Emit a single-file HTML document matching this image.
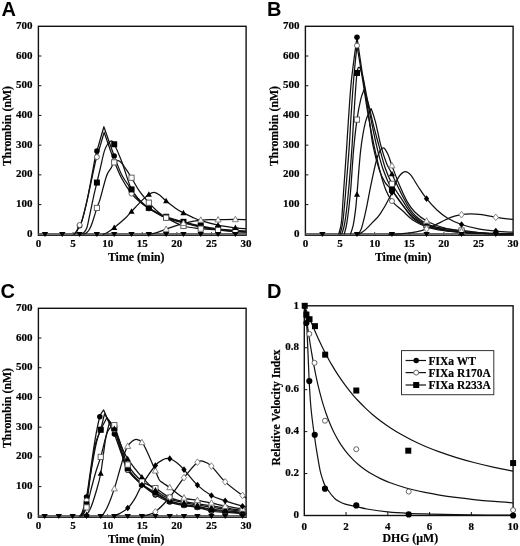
<!DOCTYPE html>
<html><head><meta charset="utf-8"><style>
html,body{margin:0;padding:0;background:#fff;width:520px;height:546px;overflow:hidden}
svg{display:block;filter:blur(0.35px)}
</style></head><body>
<svg width="520" height="546" viewBox="0 0 520 546"><rect x="0" y="0" width="520" height="546" fill="#fff"/>
<rect x="38.40" y="26.30" width="207.70" height="208.90" fill="none" stroke="#111" stroke-width="1.4"/>
<text x="32.50" y="236.90" font-family='"Liberation Serif", serif' font-size="11.00" font-weight="bold" text-anchor="end" stroke="#000" stroke-width="0.20">0</text>
<line x1="38.40" y1="204.59" x2="41.40" y2="204.59" stroke="#111" stroke-width="1"/>
<text x="32.50" y="207.19" font-family='"Liberation Serif", serif' font-size="11.00" font-weight="bold" text-anchor="end" stroke="#000" stroke-width="0.20">100</text>
<line x1="38.40" y1="174.87" x2="41.40" y2="174.87" stroke="#111" stroke-width="1"/>
<text x="32.50" y="177.47" font-family='"Liberation Serif", serif' font-size="11.00" font-weight="bold" text-anchor="end" stroke="#000" stroke-width="0.20">200</text>
<line x1="38.40" y1="145.16" x2="41.40" y2="145.16" stroke="#111" stroke-width="1"/>
<text x="32.50" y="147.76" font-family='"Liberation Serif", serif' font-size="11.00" font-weight="bold" text-anchor="end" stroke="#000" stroke-width="0.20">300</text>
<line x1="38.40" y1="115.44" x2="41.40" y2="115.44" stroke="#111" stroke-width="1"/>
<text x="32.50" y="118.04" font-family='"Liberation Serif", serif' font-size="11.00" font-weight="bold" text-anchor="end" stroke="#000" stroke-width="0.20">400</text>
<line x1="38.40" y1="85.73" x2="41.40" y2="85.73" stroke="#111" stroke-width="1"/>
<text x="32.50" y="88.33" font-family='"Liberation Serif", serif' font-size="11.00" font-weight="bold" text-anchor="end" stroke="#000" stroke-width="0.20">500</text>
<line x1="38.40" y1="56.01" x2="41.40" y2="56.01" stroke="#111" stroke-width="1"/>
<text x="32.50" y="58.61" font-family='"Liberation Serif", serif' font-size="11.00" font-weight="bold" text-anchor="end" stroke="#000" stroke-width="0.20">600</text>
<text x="32.50" y="28.90" font-family='"Liberation Serif", serif' font-size="11.00" font-weight="bold" text-anchor="end" stroke="#000" stroke-width="0.20">700</text>
<text x="38.40" y="247.30" font-family='"Liberation Serif", serif' font-size="11.00" font-weight="bold" text-anchor="middle" stroke="#000" stroke-width="0.20">0</text>
<line x1="73.02" y1="235.20" x2="73.02" y2="232.20" stroke="#111" stroke-width="1"/>
<text x="73.02" y="247.30" font-family='"Liberation Serif", serif' font-size="11.00" font-weight="bold" text-anchor="middle" stroke="#000" stroke-width="0.20">5</text>
<line x1="107.63" y1="235.20" x2="107.63" y2="232.20" stroke="#111" stroke-width="1"/>
<text x="107.63" y="247.30" font-family='"Liberation Serif", serif' font-size="11.00" font-weight="bold" text-anchor="middle" stroke="#000" stroke-width="0.20">10</text>
<line x1="142.25" y1="235.20" x2="142.25" y2="232.20" stroke="#111" stroke-width="1"/>
<text x="142.25" y="247.30" font-family='"Liberation Serif", serif' font-size="11.00" font-weight="bold" text-anchor="middle" stroke="#000" stroke-width="0.20">15</text>
<line x1="176.87" y1="235.20" x2="176.87" y2="232.20" stroke="#111" stroke-width="1"/>
<text x="176.87" y="247.30" font-family='"Liberation Serif", serif' font-size="11.00" font-weight="bold" text-anchor="middle" stroke="#000" stroke-width="0.20">20</text>
<line x1="211.48" y1="235.20" x2="211.48" y2="232.20" stroke="#111" stroke-width="1"/>
<text x="211.48" y="247.30" font-family='"Liberation Serif", serif' font-size="11.00" font-weight="bold" text-anchor="middle" stroke="#000" stroke-width="0.20">25</text>
<text x="246.10" y="247.30" font-family='"Liberation Serif", serif' font-size="11.00" font-weight="bold" text-anchor="middle" stroke="#000" stroke-width="0.20">30</text>
<text x="136.20" y="261.00" font-family='"Liberation Serif", serif' font-size="11.80" font-weight="bold" text-anchor="middle" stroke="#000" stroke-width="0.20">Time (min)</text>
<text x="10.50" y="126.00" font-family='"Liberation Serif", serif' font-size="11.80" font-weight="bold" text-anchor="middle" transform="rotate(-90 10.50 126.00)" stroke="#000" stroke-width="0.20">Thrombin (nM)</text>
<text x="1.40" y="16.00" font-family='"Liberation Sans", sans-serif' font-size="20.00" font-weight="bold" text-anchor="start">A</text>
<line x1="38.40" y1="233.90" x2="246.10" y2="233.90" stroke="#666" stroke-width="1.7"/>
<path d="M73.71,234.30 C74.17,233.90 75.50,233.36 76.48,231.92 C77.46,230.49 78.67,227.61 79.59,225.68 C80.52,223.75 80.81,224.44 82.02,220.33 C83.23,216.22 85.36,207.71 86.86,201.02 C88.36,194.33 89.63,187.45 91.02,180.22 C92.40,172.99 94.19,162.49 95.17,157.64 C96.15,152.78 95.45,156.25 96.90,151.10 C98.36,145.95 102.73,130.80 103.89,126.73 C105.63,131.64 111.23,147.98 114.28,156.15 C117.33,164.32 119.30,170.22 122.17,175.76 C125.05,181.31 128.63,185.27 131.52,189.43 C134.40,193.59 136.60,197.60 139.48,200.72 C142.37,203.84 145.25,205.77 148.83,208.15 C152.40,210.53 158.06,213.45 160.94,214.99 C163.83,216.52 162.39,216.12 166.14,217.36 C169.89,218.60 177.67,220.88 183.44,222.41 C189.21,223.95 194.98,225.39 200.75,226.57 C206.52,227.76 212.29,228.75 218.06,229.55 C223.83,230.34 230.70,230.93 235.37,231.33 C240.04,231.72 244.31,231.82 246.10,231.92" fill="none" stroke="#111" stroke-width="1.25" stroke-linejoin="round"/>
<path d="M73.71,234.30 C74.17,233.80 75.56,232.76 76.48,231.33 C77.40,229.89 78.32,227.47 79.25,225.68 C80.17,223.90 80.75,224.64 82.02,220.63 C83.29,216.62 85.36,208.00 86.86,201.61 C88.36,195.23 89.63,188.74 91.02,182.30 C92.40,175.86 94.19,167.20 95.17,162.99 C96.15,158.78 95.40,162.14 96.90,157.04 C98.40,151.94 102.96,136.49 104.17,132.38 C105.86,137.18 111.28,153.38 114.28,161.20 C117.28,169.03 119.30,173.93 122.17,179.33 C125.05,184.73 128.63,189.88 131.52,193.59 C134.40,197.31 136.60,199.14 139.48,201.61 C142.37,204.09 145.25,206.12 148.83,208.45 C152.40,210.78 158.06,214.00 160.94,215.58 C163.83,217.16 162.39,216.72 166.14,217.96 C169.89,219.20 177.67,221.47 183.44,223.01 C189.21,224.54 194.98,226.03 200.75,227.17 C206.52,228.31 212.29,229.10 218.06,229.84 C223.83,230.59 230.70,231.23 235.37,231.63 C240.04,232.02 244.31,232.12 246.10,232.22" fill="none" stroke="#111" stroke-width="1.25" stroke-linejoin="round"/>
<path d="M79.94,234.30 C80.57,234.05 82.59,233.90 83.75,232.81 C84.90,231.72 85.92,230.49 86.86,227.76 C87.81,225.04 88.27,221.82 89.42,216.47 C90.58,211.12 92.51,201.47 93.79,195.67 C95.07,189.88 95.99,186.41 97.11,181.71 C98.23,177.00 99.21,172.79 100.50,167.44 C101.79,162.09 103.19,153.97 104.86,149.61 C106.54,145.26 108.98,142.19 110.54,141.29 C112.10,140.40 112.32,140.80 114.21,144.27 C116.10,147.73 119.05,154.62 121.90,162.09 C124.75,169.57 128.38,182.84 131.31,189.13 C134.24,195.42 136.56,196.71 139.48,199.83 C142.40,202.95 145.25,205.38 148.83,207.85 C152.40,210.33 158.06,213.20 160.94,214.69 C163.83,216.17 162.39,215.58 166.14,216.77 C169.89,217.96 177.67,220.28 183.44,221.82 C189.21,223.36 194.98,224.79 200.75,225.98 C206.52,227.17 212.29,228.16 218.06,228.95 C223.83,229.74 230.70,230.34 235.37,230.73 C240.04,231.13 244.31,231.23 246.10,231.33" fill="none" stroke="#111" stroke-width="1.25" stroke-linejoin="round"/>
<path d="M83.40,234.30 C83.98,234.00 85.82,233.41 86.86,232.52 C87.90,231.63 88.73,230.59 89.63,228.95 C90.53,227.32 91.02,226.33 92.26,222.71 C93.51,219.10 95.84,211.07 97.11,207.26 C98.38,203.45 98.31,205.03 99.88,199.83 C101.45,194.63 104.69,181.31 106.53,176.06 C108.36,170.81 109.61,170.61 110.89,168.33 C112.17,166.06 112.75,163.58 114.21,162.39 C115.68,161.20 117.66,160.01 119.68,161.20 C121.70,162.39 124.34,166.75 126.33,169.52 C128.31,172.30 129.40,174.23 131.59,177.84 C133.78,181.46 136.55,187.00 139.48,191.21 C142.41,195.42 146.06,199.63 149.17,203.10 C152.29,206.57 155.37,209.59 158.17,212.01 C160.98,214.44 161.79,215.33 166.00,217.66 C170.21,219.99 177.65,224.15 183.44,225.98 C189.24,227.81 194.98,228.01 200.75,228.65 C206.52,229.30 212.29,229.50 218.06,229.84 C223.83,230.19 230.70,230.49 235.37,230.73 C240.04,230.98 244.31,231.23 246.10,231.33" fill="none" stroke="#111" stroke-width="1.25" stroke-linejoin="round"/>
<path d="M102.79,234.30 C103.48,234.05 105.06,233.90 106.94,232.81 C108.82,231.72 111.07,230.14 114.07,227.76 C117.07,225.39 122.02,221.28 124.94,218.55 C127.86,215.83 128.70,214.49 131.59,211.42 C134.47,208.35 139.32,203.00 142.25,200.13 C145.18,197.26 147.21,195.47 149.17,194.19 C151.13,192.90 152.29,192.25 154.02,192.40 C155.75,192.55 157.48,193.59 159.56,195.08 C161.64,196.56 163.83,199.14 166.48,201.32 C169.14,203.50 172.68,206.22 175.48,208.15 C178.29,210.08 180.54,211.42 183.31,212.91 C186.07,214.39 189.17,215.78 192.10,217.07 C195.03,218.35 196.56,219.29 200.89,220.63 C205.22,221.97 212.31,223.90 218.06,225.09 C223.81,226.28 230.70,227.17 235.37,227.76 C240.04,228.36 244.31,228.51 246.10,228.65" fill="none" stroke="#111" stroke-width="1.25" stroke-linejoin="round"/>
<path d="M149.17,234.30 C149.75,234.20 151.02,234.10 152.63,233.71 C154.25,233.31 156.64,232.67 158.87,231.92 C161.09,231.18 161.90,230.68 166.00,229.25 C170.09,227.81 177.63,224.84 183.44,223.31 C189.26,221.77 195.12,220.63 200.89,220.04 C206.66,219.44 212.31,219.84 218.06,219.74 C223.81,219.64 230.70,219.44 235.37,219.44 C240.04,219.44 244.31,219.69 246.10,219.74" fill="none" stroke="#111" stroke-width="1.25" stroke-linejoin="round"/>
<circle cx="79.59" cy="225.68" r="2.75" fill="#000"/>
<circle cx="96.90" cy="151.10" r="2.75" fill="#000"/>
<circle cx="114.21" cy="155.96" r="2.75" fill="#000"/>
<circle cx="131.52" cy="189.43" r="2.75" fill="#000"/>
<circle cx="148.83" cy="208.15" r="2.75" fill="#000"/>
<circle cx="166.14" cy="217.36" r="2.75" fill="#000"/>
<circle cx="183.44" cy="222.41" r="2.75" fill="#000"/>
<circle cx="200.75" cy="226.57" r="2.75" fill="#000"/>
<circle cx="218.06" cy="229.55" r="2.75" fill="#000"/>
<circle cx="235.37" cy="231.33" r="2.75" fill="#000"/>
<circle cx="79.59" cy="225.05" r="2.50" fill="#fff" stroke="#555" stroke-width="0.90"/>
<circle cx="96.90" cy="157.04" r="2.50" fill="#fff" stroke="#555" stroke-width="0.90"/>
<circle cx="114.21" cy="161.01" r="2.50" fill="#fff" stroke="#555" stroke-width="0.90"/>
<circle cx="131.52" cy="193.59" r="2.50" fill="#fff" stroke="#555" stroke-width="0.90"/>
<circle cx="148.83" cy="208.45" r="2.50" fill="#fff" stroke="#555" stroke-width="0.90"/>
<circle cx="166.14" cy="217.96" r="2.50" fill="#fff" stroke="#555" stroke-width="0.90"/>
<circle cx="183.44" cy="223.01" r="2.50" fill="#fff" stroke="#555" stroke-width="0.90"/>
<circle cx="200.75" cy="227.17" r="2.50" fill="#fff" stroke="#555" stroke-width="0.90"/>
<circle cx="218.06" cy="229.84" r="2.50" fill="#fff" stroke="#555" stroke-width="0.90"/>
<circle cx="235.37" cy="231.63" r="2.50" fill="#fff" stroke="#555" stroke-width="0.90"/>
<rect x="93.90" y="179.58" width="6.00" height="6.00" fill="#000"/>
<rect x="111.21" y="141.27" width="6.00" height="6.00" fill="#000"/>
<rect x="128.52" y="186.41" width="6.00" height="6.00" fill="#000"/>
<rect x="145.83" y="204.85" width="6.00" height="6.00" fill="#000"/>
<rect x="163.14" y="213.77" width="6.00" height="6.00" fill="#000"/>
<rect x="180.44" y="218.82" width="6.00" height="6.00" fill="#000"/>
<rect x="197.75" y="222.98" width="6.00" height="6.00" fill="#000"/>
<rect x="215.06" y="225.95" width="6.00" height="6.00" fill="#000"/>
<rect x="232.37" y="227.73" width="6.00" height="6.00" fill="#000"/>
<rect x="94.30" y="205.32" width="5.20" height="5.20" fill="#fff" stroke="#555" stroke-width="0.90"/>
<rect x="111.61" y="159.79" width="5.20" height="5.20" fill="#fff" stroke="#555" stroke-width="0.90"/>
<rect x="128.92" y="175.13" width="5.20" height="5.20" fill="#fff" stroke="#555" stroke-width="0.90"/>
<rect x="146.23" y="200.08" width="5.20" height="5.20" fill="#fff" stroke="#555" stroke-width="0.90"/>
<rect x="163.54" y="215.13" width="5.20" height="5.20" fill="#fff" stroke="#555" stroke-width="0.90"/>
<rect x="180.84" y="223.38" width="5.20" height="5.20" fill="#fff" stroke="#555" stroke-width="0.90"/>
<rect x="198.15" y="226.05" width="5.20" height="5.20" fill="#fff" stroke="#555" stroke-width="0.90"/>
<rect x="215.46" y="227.24" width="5.20" height="5.20" fill="#fff" stroke="#555" stroke-width="0.90"/>
<rect x="232.77" y="228.13" width="5.20" height="5.20" fill="#fff" stroke="#555" stroke-width="0.90"/>
<polygon points="114.21,224.45 117.25,229.89 111.17,229.89" fill="#000"/>
<polygon points="131.52,208.29 134.56,213.73 128.48,213.73" fill="#000"/>
<polygon points="148.83,191.28 151.87,196.72 145.79,196.72" fill="#000"/>
<polygon points="166.14,197.81 169.18,203.25 163.10,203.25" fill="#000"/>
<polygon points="183.44,209.77 186.48,215.21 180.40,215.21" fill="#000"/>
<polygon points="200.75,217.38 203.79,222.82 197.71,222.82" fill="#000"/>
<polygon points="218.06,221.89 221.10,227.33 215.02,227.33" fill="#000"/>
<polygon points="235.37,224.56 238.41,230.00 232.33,230.00" fill="#000"/>
<polygon points="166.14,226.00 169.18,231.44 163.10,231.44" fill="#fff" stroke="#777" stroke-width="0.90"/>
<polygon points="183.44,220.11 186.48,225.55 180.40,225.55" fill="#fff" stroke="#777" stroke-width="0.90"/>
<polygon points="200.75,216.86 203.79,222.30 197.71,222.30" fill="#fff" stroke="#777" stroke-width="0.90"/>
<polygon points="218.06,216.54 221.10,221.98 215.02,221.98" fill="#fff" stroke="#777" stroke-width="0.90"/>
<polygon points="235.37,216.24 238.41,221.68 232.33,221.68" fill="#fff" stroke="#777" stroke-width="0.90"/>
<polygon points="44.98,237.00 48.18,231.90 41.78,231.90" fill="#000"/>
<polygon points="62.29,237.00 65.49,231.90 59.09,231.90" fill="#000"/>
<polygon points="79.59,237.00 82.79,231.90 76.39,231.90" fill="#000"/>
<polygon points="96.90,237.00 100.10,231.90 93.70,231.90" fill="#000"/>
<polygon points="114.21,237.00 117.41,231.90 111.01,231.90" fill="#000"/>
<polygon points="131.52,237.00 134.72,231.90 128.32,231.90" fill="#000"/>
<polygon points="148.83,237.00 152.03,231.90 145.63,231.90" fill="#000"/>
<polygon points="166.14,237.00 169.34,231.90 162.94,231.90" fill="#000"/>
<polygon points="183.44,237.00 186.64,231.90 180.24,231.90" fill="#000"/>
<polygon points="200.75,237.00 203.95,231.90 197.55,231.90" fill="#000"/>
<polygon points="218.06,237.00 221.26,231.90 214.86,231.90" fill="#000"/>
<polygon points="235.37,237.00 238.57,231.90 232.17,231.90" fill="#000"/>
<rect x="305.40" y="26.30" width="207.70" height="208.90" fill="none" stroke="#111" stroke-width="1.4"/>
<text x="299.50" y="236.90" font-family='"Liberation Serif", serif' font-size="11.00" font-weight="bold" text-anchor="end" stroke="#000" stroke-width="0.20">0</text>
<line x1="305.40" y1="204.59" x2="308.40" y2="204.59" stroke="#111" stroke-width="1"/>
<text x="299.50" y="207.19" font-family='"Liberation Serif", serif' font-size="11.00" font-weight="bold" text-anchor="end" stroke="#000" stroke-width="0.20">100</text>
<line x1="305.40" y1="174.87" x2="308.40" y2="174.87" stroke="#111" stroke-width="1"/>
<text x="299.50" y="177.47" font-family='"Liberation Serif", serif' font-size="11.00" font-weight="bold" text-anchor="end" stroke="#000" stroke-width="0.20">200</text>
<line x1="305.40" y1="145.16" x2="308.40" y2="145.16" stroke="#111" stroke-width="1"/>
<text x="299.50" y="147.76" font-family='"Liberation Serif", serif' font-size="11.00" font-weight="bold" text-anchor="end" stroke="#000" stroke-width="0.20">300</text>
<line x1="305.40" y1="115.44" x2="308.40" y2="115.44" stroke="#111" stroke-width="1"/>
<text x="299.50" y="118.04" font-family='"Liberation Serif", serif' font-size="11.00" font-weight="bold" text-anchor="end" stroke="#000" stroke-width="0.20">400</text>
<line x1="305.40" y1="85.73" x2="308.40" y2="85.73" stroke="#111" stroke-width="1"/>
<text x="299.50" y="88.33" font-family='"Liberation Serif", serif' font-size="11.00" font-weight="bold" text-anchor="end" stroke="#000" stroke-width="0.20">500</text>
<line x1="305.40" y1="56.01" x2="308.40" y2="56.01" stroke="#111" stroke-width="1"/>
<text x="299.50" y="58.61" font-family='"Liberation Serif", serif' font-size="11.00" font-weight="bold" text-anchor="end" stroke="#000" stroke-width="0.20">600</text>
<text x="299.50" y="28.90" font-family='"Liberation Serif", serif' font-size="11.00" font-weight="bold" text-anchor="end" stroke="#000" stroke-width="0.20">700</text>
<text x="305.40" y="247.30" font-family='"Liberation Serif", serif' font-size="11.00" font-weight="bold" text-anchor="middle" stroke="#000" stroke-width="0.20">0</text>
<line x1="340.02" y1="235.20" x2="340.02" y2="232.20" stroke="#111" stroke-width="1"/>
<text x="340.02" y="247.30" font-family='"Liberation Serif", serif' font-size="11.00" font-weight="bold" text-anchor="middle" stroke="#000" stroke-width="0.20">5</text>
<line x1="374.63" y1="235.20" x2="374.63" y2="232.20" stroke="#111" stroke-width="1"/>
<text x="374.63" y="247.30" font-family='"Liberation Serif", serif' font-size="11.00" font-weight="bold" text-anchor="middle" stroke="#000" stroke-width="0.20">10</text>
<line x1="409.25" y1="235.20" x2="409.25" y2="232.20" stroke="#111" stroke-width="1"/>
<text x="409.25" y="247.30" font-family='"Liberation Serif", serif' font-size="11.00" font-weight="bold" text-anchor="middle" stroke="#000" stroke-width="0.20">15</text>
<line x1="443.87" y1="235.20" x2="443.87" y2="232.20" stroke="#111" stroke-width="1"/>
<text x="443.87" y="247.30" font-family='"Liberation Serif", serif' font-size="11.00" font-weight="bold" text-anchor="middle" stroke="#000" stroke-width="0.20">20</text>
<line x1="478.48" y1="235.20" x2="478.48" y2="232.20" stroke="#111" stroke-width="1"/>
<text x="478.48" y="247.30" font-family='"Liberation Serif", serif' font-size="11.00" font-weight="bold" text-anchor="middle" stroke="#000" stroke-width="0.20">25</text>
<text x="513.10" y="247.30" font-family='"Liberation Serif", serif' font-size="11.00" font-weight="bold" text-anchor="middle" stroke="#000" stroke-width="0.20">30</text>
<text x="403.20" y="261.00" font-family='"Liberation Serif", serif' font-size="11.80" font-weight="bold" text-anchor="middle" stroke="#000" stroke-width="0.20">Time (min)</text>
<text x="277.50" y="126.00" font-family='"Liberation Serif", serif' font-size="11.80" font-weight="bold" text-anchor="middle" transform="rotate(-90 277.50 126.00)" stroke="#000" stroke-width="0.20">Thrombin (nM)</text>
<text x="267.00" y="16.00" font-family='"Liberation Sans", sans-serif' font-size="20.00" font-weight="bold" text-anchor="start">B</text>
<line x1="305.40" y1="233.90" x2="513.10" y2="233.90" stroke="#666" stroke-width="1.7"/>
<path d="M338.63,234.30 C339.09,232.32 340.59,229.30 341.40,222.41 C342.21,215.53 342.62,205.08 343.48,193.00 C344.33,180.91 345.72,161.85 346.52,149.91 C347.33,137.98 347.51,133.02 348.32,121.39 C349.14,109.75 350.00,94.10 351.44,80.08 C352.88,66.07 356.06,44.43 356.98,37.29 C357.84,43.14 360.38,60.57 362.17,72.36 C363.96,84.14 365.92,95.88 367.71,108.01 C369.50,120.15 370.94,134.76 372.90,145.16 C374.86,155.56 377.46,164.22 379.48,170.41 C381.50,176.60 382.94,179.03 385.02,182.30 C387.10,185.57 389.06,186.31 391.94,190.03 C394.83,193.74 398.87,199.93 402.33,204.59 C405.79,209.24 408.67,214.39 412.71,217.96 C416.75,221.52 421.37,223.95 426.56,225.98 C431.75,228.01 438.04,229.10 443.87,230.14 C449.69,231.18 455.75,231.72 461.52,232.22 C467.29,232.72 472.77,232.86 478.48,233.11 C484.20,233.36 490.02,233.56 495.79,233.71 C501.56,233.85 510.22,233.95 513.10,234.00" fill="none" stroke="#111" stroke-width="1.25" stroke-linejoin="round"/>
<path d="M340.02,234.30 C340.48,232.32 341.86,229.30 342.79,222.41 C343.71,215.53 344.52,205.08 345.56,193.00 C346.59,180.91 348.09,162.84 349.02,149.91 C349.94,136.99 350.29,127.63 351.09,115.44 C351.90,103.26 352.88,88.45 353.86,76.81 C354.84,65.18 356.46,50.81 356.98,45.61 C357.84,50.81 360.38,65.67 362.17,76.81 C363.96,87.96 365.75,101.08 367.71,112.47 C369.67,123.86 371.86,135.25 373.94,145.16 C376.02,155.06 378.21,164.47 380.17,171.90 C382.13,179.33 383.75,184.88 385.71,189.73 C387.67,194.58 389.17,197.55 391.94,201.02 C394.71,204.49 398.87,207.36 402.33,210.53 C405.79,213.70 408.67,217.31 412.71,220.04 C416.75,222.76 421.37,225.09 426.56,226.87 C431.75,228.65 438.04,229.79 443.87,230.73 C449.69,231.68 455.75,232.07 461.52,232.52 C467.29,232.96 472.77,233.21 478.48,233.41 C484.20,233.61 490.02,233.61 495.79,233.71 C501.56,233.80 510.22,233.95 513.10,234.00" fill="none" stroke="#111" stroke-width="1.25" stroke-linejoin="round"/>
<path d="M341.75,234.30 C342.27,232.32 343.77,229.30 344.86,222.41 C345.96,215.53 347.17,205.08 348.32,193.00 C349.48,180.91 350.86,162.84 351.79,149.91 C352.71,136.99 353.00,128.27 353.86,115.44 C354.73,102.62 356.00,80.97 356.98,72.95 C357.96,64.93 359.29,68.25 359.75,67.31 C360.38,69.39 362.00,72.75 363.56,79.79 C365.11,86.82 366.95,98.60 369.09,109.50 C371.24,120.40 374.13,135.25 376.43,145.16 C378.74,155.06 380.36,161.50 382.94,168.93 C385.53,176.36 388.71,183.79 391.94,189.73 C395.17,195.67 398.87,200.03 402.33,204.59 C405.79,209.14 408.67,213.60 412.71,217.07 C416.75,220.53 421.37,223.26 426.56,225.39 C431.75,227.52 438.04,228.75 443.87,229.84 C449.69,230.93 455.75,231.38 461.52,231.92 C467.29,232.47 472.77,232.81 478.48,233.11 C484.20,233.41 490.02,233.56 495.79,233.71 C501.56,233.85 510.22,233.95 513.10,234.00" fill="none" stroke="#111" stroke-width="1.25" stroke-linejoin="round"/>
<path d="M344.17,234.30 C344.63,232.32 345.90,229.30 346.94,222.41 C347.98,215.53 349.29,205.08 350.40,193.00 C351.51,180.91 352.49,162.14 353.59,149.91 C354.68,137.68 355.78,128.07 356.98,119.60 C358.18,111.13 359.61,104.10 360.79,99.10 C361.96,94.10 363.50,91.18 364.04,89.59 C364.77,91.92 366.87,97.76 368.40,103.56 C369.94,109.35 371.52,117.42 373.25,124.36 C374.98,131.29 376.83,137.98 378.79,145.16 C380.75,152.34 382.83,161.00 385.02,167.44 C387.21,173.88 389.06,178.34 391.94,183.79 C394.83,189.23 398.87,194.93 402.33,200.13 C405.79,205.33 408.67,210.92 412.71,214.99 C416.75,219.05 421.37,222.27 426.56,224.49 C431.75,226.72 438.04,227.37 443.87,228.36 C449.69,229.35 455.75,229.74 461.52,230.44 C467.29,231.13 472.77,232.02 478.48,232.52 C484.20,233.01 490.02,233.21 495.79,233.41 C501.56,233.61 510.22,233.66 513.10,233.71" fill="none" stroke="#111" stroke-width="1.25" stroke-linejoin="round"/>
<path d="M350.40,234.30 C350.86,232.81 352.32,229.45 353.17,225.39 C354.02,221.32 354.89,215.08 355.52,209.93 C356.16,204.78 356.11,204.49 356.98,194.48 C357.84,184.48 359.28,162.09 360.72,149.91 C362.16,137.73 363.89,128.27 365.63,121.39 C367.38,114.50 370.25,110.74 371.17,108.61 C371.86,110.74 373.73,115.29 375.33,121.39 C376.92,127.48 378.88,138.22 380.73,145.16 C382.57,152.09 384.53,158.18 386.40,162.99 C388.27,167.79 389.29,168.53 391.94,173.98 C394.60,179.43 398.87,189.18 402.33,195.67 C405.79,202.16 408.67,208.25 412.71,212.91 C416.75,217.56 421.37,220.88 426.56,223.60 C431.75,226.33 438.04,227.86 443.87,229.25 C449.69,230.64 455.75,231.28 461.52,231.92 C467.29,232.57 472.77,232.81 478.48,233.11 C484.20,233.41 490.02,233.56 495.79,233.71 C501.56,233.85 510.22,233.95 513.10,234.00" fill="none" stroke="#111" stroke-width="1.25" stroke-linejoin="round"/>
<path d="M358.02,234.30 C358.59,233.31 360.14,232.42 361.48,228.36 C362.82,224.30 364.43,217.36 366.05,209.93 C367.66,202.51 369.28,192.60 371.17,183.79 C373.06,174.97 375.42,163.04 377.40,157.04 C379.39,151.05 381.35,148.33 383.08,147.83 C384.81,147.34 386.31,151.10 387.79,154.07 C389.26,157.04 390.10,160.71 391.94,165.66 C393.79,170.61 396.33,177.79 398.87,183.79 C401.40,189.78 404.52,196.91 407.17,201.61 C409.83,206.32 411.56,208.80 414.79,212.01 C418.02,215.23 421.71,218.30 426.56,220.93 C431.40,223.55 438.04,226.03 443.87,227.76 C449.69,229.50 455.75,230.49 461.52,231.33 C467.29,232.17 472.77,232.42 478.48,232.81 C484.20,233.21 490.02,233.51 495.79,233.71 C501.56,233.90 510.22,233.95 513.10,234.00" fill="none" stroke="#111" stroke-width="1.25" stroke-linejoin="round"/>
<path d="M358.71,234.30 C359.75,233.61 362.63,232.12 364.94,230.14 C367.25,228.16 370.04,225.09 372.56,222.41 C375.07,219.74 377.03,218.55 380.03,214.09 C383.03,209.64 387.53,201.71 390.56,195.67 C393.58,189.63 395.77,181.85 398.17,177.84 C400.57,173.83 402.88,172.10 404.96,171.60 C407.03,171.11 408.42,172.35 410.63,174.87 C412.85,177.40 415.60,182.80 418.25,186.76 C420.90,190.72 423.44,194.78 426.56,198.64 C429.67,202.51 433.48,206.72 436.94,209.93 C440.41,213.15 443.23,215.53 447.33,217.96 C451.42,220.38 456.33,222.66 461.52,224.49 C466.71,226.33 472.77,227.86 478.48,228.95 C484.20,230.04 490.02,230.49 495.79,231.03 C501.56,231.58 510.22,232.02 513.10,232.22" fill="none" stroke="#111" stroke-width="1.25" stroke-linejoin="round"/>
<path d="M388.48,234.30 C390.79,234.20 397.71,234.10 402.33,233.71 C406.94,233.31 412.13,232.72 416.17,231.92 C420.21,231.13 422.52,230.54 426.56,228.95 C430.60,227.37 436.37,224.35 440.40,222.41 C444.44,220.48 447.27,218.65 450.79,217.36 C454.31,216.08 458.29,215.28 461.52,214.69 C464.75,214.09 466.77,213.80 470.18,213.80 C473.58,213.80 477.68,214.09 481.95,214.69 C486.21,215.28 490.60,216.57 495.79,217.36 C500.98,218.16 510.22,219.10 513.10,219.44" fill="none" stroke="#111" stroke-width="1.25" stroke-linejoin="round"/>
<circle cx="356.98" cy="37.29" r="2.75" fill="#000"/>
<circle cx="391.94" cy="190.03" r="2.75" fill="#000"/>
<circle cx="426.56" cy="225.98" r="2.75" fill="#000"/>
<circle cx="461.52" cy="232.22" r="2.75" fill="#000"/>
<circle cx="356.98" cy="45.61" r="2.50" fill="#fff" stroke="#555" stroke-width="0.90"/>
<circle cx="391.94" cy="201.02" r="2.50" fill="#fff" stroke="#555" stroke-width="0.90"/>
<circle cx="426.56" cy="226.87" r="2.50" fill="#fff" stroke="#555" stroke-width="0.90"/>
<circle cx="461.52" cy="232.52" r="2.50" fill="#fff" stroke="#555" stroke-width="0.90"/>
<rect x="353.98" y="69.95" width="6.00" height="6.00" fill="#000"/>
<rect x="388.94" y="186.73" width="6.00" height="6.00" fill="#000"/>
<rect x="423.56" y="222.39" width="6.00" height="6.00" fill="#000"/>
<rect x="458.52" y="228.92" width="6.00" height="6.00" fill="#000"/>
<rect x="354.38" y="117.00" width="5.20" height="5.20" fill="#fff" stroke="#555" stroke-width="0.90"/>
<rect x="389.34" y="181.19" width="5.20" height="5.20" fill="#fff" stroke="#555" stroke-width="0.90"/>
<rect x="423.96" y="221.89" width="5.20" height="5.20" fill="#fff" stroke="#555" stroke-width="0.90"/>
<rect x="458.92" y="227.84" width="5.20" height="5.20" fill="#fff" stroke="#555" stroke-width="0.90"/>
<polygon points="356.98,191.28 360.02,196.72 353.94,196.72" fill="#000"/>
<polygon points="391.94,170.78 394.98,176.22 388.90,176.22" fill="#000"/>
<polygon points="426.56,220.40 429.60,225.84 423.52,225.84" fill="#000"/>
<polygon points="461.52,228.72 464.56,234.16 458.48,234.16" fill="#000"/>
<polygon points="391.94,162.46 394.98,167.90 388.90,167.90" fill="#fff" stroke="#777" stroke-width="0.90"/>
<polygon points="426.56,217.73 429.60,223.17 423.52,223.17" fill="#fff" stroke="#777" stroke-width="0.90"/>
<polygon points="461.52,228.13 464.56,233.57 458.48,233.57" fill="#fff" stroke="#777" stroke-width="0.90"/>
<polygon points="391.94,189.13 394.58,192.43 391.94,195.73 389.30,192.43" fill="#000"/>
<polygon points="426.56,195.34 429.20,198.64 426.56,201.94 423.92,198.64" fill="#000"/>
<polygon points="461.52,221.19 464.16,224.49 461.52,227.79 458.88,224.49" fill="#000"/>
<polygon points="495.79,227.73 498.43,231.03 495.79,234.33 493.15,231.03" fill="#000"/>
<polygon points="426.56,225.65 429.20,228.95 426.56,232.25 423.92,228.95" fill="#fff" stroke="#777" stroke-width="0.90"/>
<polygon points="461.52,211.39 464.16,214.69 461.52,217.99 458.88,214.69" fill="#fff" stroke="#777" stroke-width="0.90"/>
<polygon points="495.79,214.06 498.43,217.36 495.79,220.66 493.15,217.36" fill="#fff" stroke="#777" stroke-width="0.90"/>
<polygon points="322.36,237.00 325.56,231.90 319.16,231.90" fill="#000"/>
<polygon points="356.98,237.00 360.18,231.90 353.78,231.90" fill="#000"/>
<polygon points="391.94,237.00 395.14,231.90 388.74,231.90" fill="#000"/>
<polygon points="426.56,237.00 429.76,231.90 423.36,231.90" fill="#000"/>
<polygon points="461.52,237.00 464.72,231.90 458.32,231.90" fill="#000"/>
<polygon points="495.79,237.00 498.99,231.90 492.59,231.90" fill="#000"/>
<rect x="38.40" y="308.30" width="207.70" height="208.90" fill="none" stroke="#111" stroke-width="1.4"/>
<text x="32.50" y="518.90" font-family='"Liberation Serif", serif' font-size="11.00" font-weight="bold" text-anchor="end" stroke="#000" stroke-width="0.20">0</text>
<line x1="38.40" y1="486.59" x2="41.40" y2="486.59" stroke="#111" stroke-width="1"/>
<text x="32.50" y="489.19" font-family='"Liberation Serif", serif' font-size="11.00" font-weight="bold" text-anchor="end" stroke="#000" stroke-width="0.20">100</text>
<line x1="38.40" y1="456.87" x2="41.40" y2="456.87" stroke="#111" stroke-width="1"/>
<text x="32.50" y="459.47" font-family='"Liberation Serif", serif' font-size="11.00" font-weight="bold" text-anchor="end" stroke="#000" stroke-width="0.20">200</text>
<line x1="38.40" y1="427.16" x2="41.40" y2="427.16" stroke="#111" stroke-width="1"/>
<text x="32.50" y="429.76" font-family='"Liberation Serif", serif' font-size="11.00" font-weight="bold" text-anchor="end" stroke="#000" stroke-width="0.20">300</text>
<line x1="38.40" y1="397.44" x2="41.40" y2="397.44" stroke="#111" stroke-width="1"/>
<text x="32.50" y="400.04" font-family='"Liberation Serif", serif' font-size="11.00" font-weight="bold" text-anchor="end" stroke="#000" stroke-width="0.20">400</text>
<line x1="38.40" y1="367.73" x2="41.40" y2="367.73" stroke="#111" stroke-width="1"/>
<text x="32.50" y="370.33" font-family='"Liberation Serif", serif' font-size="11.00" font-weight="bold" text-anchor="end" stroke="#000" stroke-width="0.20">500</text>
<line x1="38.40" y1="338.01" x2="41.40" y2="338.01" stroke="#111" stroke-width="1"/>
<text x="32.50" y="340.61" font-family='"Liberation Serif", serif' font-size="11.00" font-weight="bold" text-anchor="end" stroke="#000" stroke-width="0.20">600</text>
<text x="32.50" y="310.90" font-family='"Liberation Serif", serif' font-size="11.00" font-weight="bold" text-anchor="end" stroke="#000" stroke-width="0.20">700</text>
<text x="38.40" y="529.30" font-family='"Liberation Serif", serif' font-size="11.00" font-weight="bold" text-anchor="middle" stroke="#000" stroke-width="0.20">0</text>
<line x1="73.02" y1="517.20" x2="73.02" y2="514.20" stroke="#111" stroke-width="1"/>
<text x="73.02" y="529.30" font-family='"Liberation Serif", serif' font-size="11.00" font-weight="bold" text-anchor="middle" stroke="#000" stroke-width="0.20">5</text>
<line x1="107.63" y1="517.20" x2="107.63" y2="514.20" stroke="#111" stroke-width="1"/>
<text x="107.63" y="529.30" font-family='"Liberation Serif", serif' font-size="11.00" font-weight="bold" text-anchor="middle" stroke="#000" stroke-width="0.20">10</text>
<line x1="142.25" y1="517.20" x2="142.25" y2="514.20" stroke="#111" stroke-width="1"/>
<text x="142.25" y="529.30" font-family='"Liberation Serif", serif' font-size="11.00" font-weight="bold" text-anchor="middle" stroke="#000" stroke-width="0.20">15</text>
<line x1="176.87" y1="517.20" x2="176.87" y2="514.20" stroke="#111" stroke-width="1"/>
<text x="176.87" y="529.30" font-family='"Liberation Serif", serif' font-size="11.00" font-weight="bold" text-anchor="middle" stroke="#000" stroke-width="0.20">20</text>
<line x1="211.48" y1="517.20" x2="211.48" y2="514.20" stroke="#111" stroke-width="1"/>
<text x="211.48" y="529.30" font-family='"Liberation Serif", serif' font-size="11.00" font-weight="bold" text-anchor="middle" stroke="#000" stroke-width="0.20">25</text>
<text x="246.10" y="529.30" font-family='"Liberation Serif", serif' font-size="11.00" font-weight="bold" text-anchor="middle" stroke="#000" stroke-width="0.20">30</text>
<text x="136.20" y="543.00" font-family='"Liberation Serif", serif' font-size="11.80" font-weight="bold" text-anchor="middle" stroke="#000" stroke-width="0.20">Time (min)</text>
<text x="10.50" y="408.00" font-family='"Liberation Serif", serif' font-size="11.80" font-weight="bold" text-anchor="middle" transform="rotate(-90 10.50 408.00)" stroke="#000" stroke-width="0.20">Thrombin (nM)</text>
<text x="0.40" y="297.80" font-family='"Liberation Sans", sans-serif' font-size="20.00" font-weight="bold" text-anchor="start">C</text>
<line x1="38.40" y1="515.90" x2="246.10" y2="515.90" stroke="#666" stroke-width="1.7"/>
<path d="M79.25,516.30 C79.71,515.71 80.81,515.95 82.02,512.73 C83.23,509.52 85.13,503.82 86.52,496.99 C87.90,490.15 88.88,481.39 90.32,471.73 C91.77,462.07 93.59,448.20 95.17,439.04 C96.75,429.88 98.39,421.61 99.81,416.76 C101.23,411.90 103.04,411.06 103.69,409.92 C104.58,412.05 107.24,418.69 109.02,422.70 C110.79,426.71 112.27,428.79 114.35,433.99 C116.43,439.19 119.25,447.86 121.48,453.90 C123.71,459.94 124.31,465.14 127.71,470.24 C131.11,475.34 137.29,480.40 141.90,484.51 C146.52,488.62 150.77,491.98 155.40,494.91 C160.04,497.83 164.97,500.25 169.74,502.04 C174.50,503.82 179.38,504.71 184.00,505.60 C188.61,506.49 192.86,506.44 197.43,507.39 C202.00,508.33 206.79,510.41 211.41,511.25 C216.04,512.09 220.01,512.09 225.19,512.44 C230.37,512.78 239.02,513.13 242.50,513.33 C245.98,513.53 245.50,513.58 246.10,513.63" fill="none" stroke="#111" stroke-width="1.25" stroke-linejoin="round"/>
<path d="M79.94,516.30 C80.40,515.71 81.61,515.36 82.71,512.73 C83.81,510.11 85.25,506.89 86.52,500.55 C87.79,494.21 88.88,483.96 90.32,474.70 C91.77,465.44 93.44,452.56 95.17,444.99 C96.90,437.41 99.15,434.44 100.71,429.24 C102.27,424.04 103.88,416.36 104.52,413.79 C105.38,415.27 108.07,420.08 109.71,422.70 C111.35,425.32 112.39,424.58 114.35,429.53 C116.31,434.49 119.25,445.73 121.48,452.41 C123.71,459.10 124.31,464.25 127.71,469.65 C131.11,475.05 137.29,480.79 141.90,484.80 C146.52,488.81 150.77,490.94 155.40,493.72 C160.04,496.49 164.97,499.56 169.74,501.44 C174.50,503.32 179.38,504.07 184.00,505.01 C188.61,505.95 192.86,506.25 197.43,507.09 C202.00,507.93 206.79,509.32 211.41,510.06 C216.04,510.80 220.01,511.05 225.19,511.55 C230.37,512.04 239.02,512.73 242.50,513.03 C245.98,513.33 245.50,513.28 246.10,513.33" fill="none" stroke="#111" stroke-width="1.25" stroke-linejoin="round"/>
<path d="M80.63,516.30 C81.09,515.80 82.42,515.31 83.40,513.33 C84.38,511.35 85.25,511.35 86.52,504.41 C87.79,497.48 89.34,482.13 91.02,471.73 C92.69,461.33 94.94,449.00 96.56,442.01 C98.17,435.03 98.98,433.89 100.71,429.83 C102.44,425.77 105.90,419.68 106.94,417.65 C108.18,419.43 111.93,422.90 114.35,428.35 C116.77,433.79 119.25,443.70 121.48,450.33 C123.71,456.97 124.31,462.57 127.71,468.16 C131.11,473.76 137.29,479.85 141.90,483.91 C146.52,487.97 150.77,489.71 155.40,492.53 C160.04,495.35 164.97,498.87 169.74,500.85 C174.50,502.83 179.38,503.47 184.00,504.41 C188.61,505.36 192.86,505.70 197.43,506.49 C202.00,507.29 206.79,508.48 211.41,509.17 C216.04,509.86 220.01,510.11 225.19,510.65 C230.37,511.20 239.02,512.09 242.50,512.44 C245.98,512.78 245.50,512.68 246.10,512.73" fill="none" stroke="#111" stroke-width="1.25" stroke-linejoin="round"/>
<path d="M82.02,516.30 C82.77,514.81 85.02,511.84 86.52,507.39 C88.02,502.93 89.46,495.50 91.02,489.56 C92.58,483.61 94.25,477.18 95.86,471.73 C97.48,466.28 98.75,463.56 100.71,456.87 C102.67,450.19 105.36,436.91 107.63,431.61 C109.91,426.32 113.23,426.17 114.35,425.08 C115.54,428.64 119.25,439.88 121.48,446.47 C123.71,453.06 124.31,458.80 127.71,464.60 C131.11,470.39 137.29,477.32 141.90,481.24 C146.52,485.15 150.77,485.35 155.40,488.07 C160.04,490.80 164.97,495.35 169.74,497.58 C174.50,499.81 179.38,500.40 184.00,501.44 C188.61,502.48 192.86,503.08 197.43,503.82 C202.00,504.56 206.79,505.21 211.41,505.90 C216.04,506.59 220.01,507.24 225.19,507.98 C230.37,508.72 239.02,509.91 242.50,510.36 C245.98,510.80 245.50,510.60 246.10,510.65" fill="none" stroke="#111" stroke-width="1.25" stroke-linejoin="round"/>
<path d="M85.48,516.30 C86.29,515.06 88.59,512.83 90.32,508.87 C92.06,504.91 94.13,498.42 95.86,492.53 C97.59,486.64 99.09,482.43 100.71,473.51 C102.33,464.60 104.06,447.66 105.56,439.04 C107.06,430.43 109.02,424.68 109.71,421.81 C110.48,422.95 112.39,424.53 114.35,428.64 C116.31,432.75 119.25,441.42 121.48,446.47 C123.71,451.52 124.31,453.85 127.71,458.95 C131.11,464.05 137.29,471.88 141.90,477.08 C146.52,482.28 150.77,486.49 155.40,490.15 C160.04,493.82 164.97,496.99 169.74,499.07 C174.50,501.15 179.38,501.64 184.00,502.63 C188.61,503.62 192.86,504.22 197.43,505.01 C202.00,505.80 206.79,506.69 211.41,507.39 C216.04,508.08 220.01,508.52 225.19,509.17 C230.37,509.81 239.02,510.85 242.50,511.25 C245.98,511.64 245.50,511.50 246.10,511.55" fill="none" stroke="#111" stroke-width="1.25" stroke-linejoin="round"/>
<path d="M100.36,516.30 C100.88,515.90 102.15,515.80 103.48,513.92 C104.81,512.04 106.51,509.22 108.33,505.01 C110.14,500.80 112.39,494.71 114.35,488.67 C116.31,482.62 118.33,474.80 120.10,468.76 C121.86,462.72 123.67,456.18 124.94,452.41 C126.21,448.65 126.56,448.01 127.71,446.17 C128.86,444.34 130.42,442.56 131.86,441.42 C133.31,440.28 134.63,439.14 136.37,439.34 C138.10,439.54 140.35,440.28 142.25,442.61 C144.15,444.94 145.60,448.60 147.79,453.31 C149.98,458.01 153.50,466.43 155.40,470.84 C157.31,475.24 157.94,477.72 159.21,479.75 C160.48,481.78 161.27,481.73 163.02,483.02 C164.77,484.31 166.24,485.00 169.74,487.48 C173.23,489.95 179.38,495.75 184.00,497.88 C188.61,500.01 192.86,499.41 197.43,500.25 C202.00,501.10 206.79,501.94 211.41,502.93 C216.04,503.92 220.01,505.21 225.19,506.20 C230.37,507.19 239.02,508.33 242.50,508.87 C245.98,509.42 245.50,509.37 246.10,509.47" fill="none" stroke="#111" stroke-width="1.25" stroke-linejoin="round"/>
<path d="M112.48,516.30 C113.75,515.80 117.46,514.76 120.10,513.33 C122.73,511.89 125.73,510.26 128.26,507.68 C130.80,505.11 133.05,501.64 135.33,497.88 C137.60,494.11 138.56,490.50 141.90,485.10 C145.25,479.70 151.77,469.80 155.40,465.49 C159.04,461.18 161.32,460.39 163.71,459.25 C166.10,458.11 167.54,458.06 169.74,458.65 C171.93,459.25 174.49,460.98 176.87,462.81 C179.24,464.65 180.57,465.93 184.00,469.65 C187.42,473.36 192.86,480.79 197.43,485.10 C202.00,489.41 206.79,492.88 211.41,495.50 C216.04,498.12 220.01,499.07 225.19,500.85 C230.37,502.63 239.02,505.21 242.50,506.20 C245.98,507.19 245.50,506.69 246.10,506.79" fill="none" stroke="#111" stroke-width="1.25" stroke-linejoin="round"/>
<path d="M141.56,516.30 C142.60,516.05 145.48,515.56 147.79,514.81 C150.10,514.07 151.71,514.81 155.40,511.84 C159.10,508.87 165.18,502.68 169.94,496.99 C174.71,491.29 179.42,483.47 184.00,477.67 C188.58,471.88 194.12,464.89 197.43,462.22 C200.74,459.55 201.54,460.98 203.87,461.63 C206.20,462.27 207.86,462.72 211.41,466.08 C214.97,469.45 220.01,476.93 225.19,481.83 C230.37,486.73 239.02,492.83 242.50,495.50 C245.98,498.17 245.50,497.48 246.10,497.88" fill="none" stroke="#111" stroke-width="1.25" stroke-linejoin="round"/>
<circle cx="86.52" cy="496.99" r="2.75" fill="#000"/>
<circle cx="99.81" cy="416.76" r="2.75" fill="#000"/>
<circle cx="114.35" cy="433.99" r="2.75" fill="#000"/>
<circle cx="127.71" cy="470.24" r="2.75" fill="#000"/>
<circle cx="141.90" cy="484.51" r="2.75" fill="#000"/>
<circle cx="155.40" cy="494.91" r="2.75" fill="#000"/>
<circle cx="169.74" cy="502.04" r="2.75" fill="#000"/>
<circle cx="184.00" cy="505.60" r="2.75" fill="#000"/>
<circle cx="197.43" cy="507.39" r="2.75" fill="#000"/>
<circle cx="211.41" cy="511.25" r="2.75" fill="#000"/>
<circle cx="225.19" cy="512.44" r="2.75" fill="#000"/>
<circle cx="242.50" cy="513.33" r="2.75" fill="#000"/>
<circle cx="86.52" cy="500.55" r="2.50" fill="#fff" stroke="#555" stroke-width="0.90"/>
<circle cx="100.71" cy="429.24" r="2.50" fill="#fff" stroke="#555" stroke-width="0.90"/>
<circle cx="114.35" cy="429.53" r="2.50" fill="#fff" stroke="#555" stroke-width="0.90"/>
<circle cx="127.71" cy="469.65" r="2.50" fill="#fff" stroke="#555" stroke-width="0.90"/>
<circle cx="141.90" cy="484.80" r="2.50" fill="#fff" stroke="#555" stroke-width="0.90"/>
<circle cx="155.40" cy="493.72" r="2.50" fill="#fff" stroke="#555" stroke-width="0.90"/>
<circle cx="169.74" cy="501.44" r="2.50" fill="#fff" stroke="#555" stroke-width="0.90"/>
<circle cx="184.00" cy="505.01" r="2.50" fill="#fff" stroke="#555" stroke-width="0.90"/>
<circle cx="197.43" cy="507.09" r="2.50" fill="#fff" stroke="#555" stroke-width="0.90"/>
<circle cx="211.41" cy="510.06" r="2.50" fill="#fff" stroke="#555" stroke-width="0.90"/>
<circle cx="225.19" cy="511.55" r="2.50" fill="#fff" stroke="#555" stroke-width="0.90"/>
<circle cx="242.50" cy="513.03" r="2.50" fill="#fff" stroke="#555" stroke-width="0.90"/>
<rect x="83.52" y="501.41" width="6.00" height="6.00" fill="#000"/>
<rect x="97.71" y="426.83" width="6.00" height="6.00" fill="#000"/>
<rect x="111.35" y="425.35" width="6.00" height="6.00" fill="#000"/>
<rect x="124.71" y="465.16" width="6.00" height="6.00" fill="#000"/>
<rect x="138.90" y="480.91" width="6.00" height="6.00" fill="#000"/>
<rect x="152.40" y="489.53" width="6.00" height="6.00" fill="#000"/>
<rect x="166.74" y="497.85" width="6.00" height="6.00" fill="#000"/>
<rect x="181.00" y="501.41" width="6.00" height="6.00" fill="#000"/>
<rect x="194.43" y="503.49" width="6.00" height="6.00" fill="#000"/>
<rect x="208.41" y="506.17" width="6.00" height="6.00" fill="#000"/>
<rect x="222.19" y="507.65" width="6.00" height="6.00" fill="#000"/>
<rect x="239.50" y="509.44" width="6.00" height="6.00" fill="#000"/>
<rect x="83.92" y="504.79" width="5.20" height="5.20" fill="#fff" stroke="#555" stroke-width="0.90"/>
<rect x="98.11" y="454.27" width="5.20" height="5.20" fill="#fff" stroke="#555" stroke-width="0.90"/>
<rect x="111.75" y="422.48" width="5.20" height="5.20" fill="#fff" stroke="#555" stroke-width="0.90"/>
<rect x="125.11" y="462.00" width="5.20" height="5.20" fill="#fff" stroke="#555" stroke-width="0.90"/>
<rect x="139.30" y="478.64" width="5.20" height="5.20" fill="#fff" stroke="#555" stroke-width="0.90"/>
<rect x="152.80" y="485.47" width="5.20" height="5.20" fill="#fff" stroke="#555" stroke-width="0.90"/>
<rect x="167.14" y="494.98" width="5.20" height="5.20" fill="#fff" stroke="#555" stroke-width="0.90"/>
<rect x="181.40" y="498.84" width="5.20" height="5.20" fill="#fff" stroke="#555" stroke-width="0.90"/>
<rect x="194.83" y="501.22" width="5.20" height="5.20" fill="#fff" stroke="#555" stroke-width="0.90"/>
<rect x="208.81" y="503.30" width="5.20" height="5.20" fill="#fff" stroke="#555" stroke-width="0.90"/>
<rect x="222.59" y="505.38" width="5.20" height="5.20" fill="#fff" stroke="#555" stroke-width="0.90"/>
<rect x="239.90" y="507.76" width="5.20" height="5.20" fill="#fff" stroke="#555" stroke-width="0.90"/>
<polygon points="86.52,511.51 89.56,516.95 83.48,516.95" fill="#000"/>
<polygon points="100.71,470.31 103.75,475.75 97.67,475.75" fill="#000"/>
<polygon points="114.35,425.44 117.39,430.88 111.31,430.88" fill="#000"/>
<polygon points="127.71,455.75 130.75,461.19 124.67,461.19" fill="#000"/>
<polygon points="141.90,473.88 144.94,479.32 138.86,479.32" fill="#000"/>
<polygon points="155.40,486.95 158.44,492.39 152.36,492.39" fill="#000"/>
<polygon points="169.74,495.87 172.78,501.31 166.70,501.31" fill="#000"/>
<polygon points="184.00,499.43 187.04,504.87 180.96,504.87" fill="#000"/>
<polygon points="197.43,501.81 200.47,507.25 194.39,507.25" fill="#000"/>
<polygon points="211.41,504.19 214.45,509.63 208.37,509.63" fill="#000"/>
<polygon points="225.19,505.97 228.23,511.41 222.15,511.41" fill="#000"/>
<polygon points="242.50,508.05 245.54,513.49 239.46,513.49" fill="#000"/>
<polygon points="114.35,485.47 117.39,490.91 111.31,490.91" fill="#fff" stroke="#777" stroke-width="0.90"/>
<polygon points="127.71,442.97 130.75,448.41 124.67,448.41" fill="#fff" stroke="#777" stroke-width="0.90"/>
<polygon points="141.90,439.22 144.94,444.66 138.86,444.66" fill="#fff" stroke="#777" stroke-width="0.90"/>
<polygon points="155.40,467.64 158.44,473.08 152.36,473.08" fill="#fff" stroke="#777" stroke-width="0.90"/>
<polygon points="169.74,484.28 172.78,489.72 166.70,489.72" fill="#fff" stroke="#777" stroke-width="0.90"/>
<polygon points="184.00,494.68 187.04,500.12 180.96,500.12" fill="#fff" stroke="#777" stroke-width="0.90"/>
<polygon points="197.43,497.05 200.47,502.49 194.39,502.49" fill="#fff" stroke="#777" stroke-width="0.90"/>
<polygon points="211.41,499.73 214.45,505.17 208.37,505.17" fill="#fff" stroke="#777" stroke-width="0.90"/>
<polygon points="225.19,503.00 228.23,508.44 222.15,508.44" fill="#fff" stroke="#777" stroke-width="0.90"/>
<polygon points="242.50,505.67 245.54,511.11 239.46,511.11" fill="#fff" stroke="#777" stroke-width="0.90"/>
<polygon points="127.71,504.77 130.35,508.07 127.71,511.37 125.07,508.07" fill="#000"/>
<polygon points="141.90,481.80 144.54,485.10 141.90,488.40 139.26,485.10" fill="#000"/>
<polygon points="155.40,462.19 158.04,465.49 155.40,468.79 152.76,465.49" fill="#000"/>
<polygon points="169.74,455.35 172.38,458.65 169.74,461.95 167.10,458.65" fill="#000"/>
<polygon points="184.00,466.35 186.64,469.65 184.00,472.95 181.36,469.65" fill="#000"/>
<polygon points="197.43,481.80 200.07,485.10 197.43,488.40 194.79,485.10" fill="#000"/>
<polygon points="211.41,492.20 214.05,495.50 211.41,498.80 208.77,495.50" fill="#000"/>
<polygon points="225.19,497.55 227.83,500.85 225.19,504.15 222.55,500.85" fill="#000"/>
<polygon points="242.50,502.90 245.14,506.20 242.50,509.50 239.86,506.20" fill="#000"/>
<polygon points="155.40,508.54 158.04,511.84 155.40,515.14 152.76,511.84" fill="#fff" stroke="#777" stroke-width="0.90"/>
<polygon points="169.74,493.90 172.38,497.20 169.74,500.50 167.10,497.20" fill="#fff" stroke="#777" stroke-width="0.90"/>
<polygon points="184.00,474.37 186.64,477.67 184.00,480.97 181.36,477.67" fill="#fff" stroke="#777" stroke-width="0.90"/>
<polygon points="197.43,458.92 200.07,462.22 197.43,465.52 194.79,462.22" fill="#fff" stroke="#777" stroke-width="0.90"/>
<polygon points="211.41,462.78 214.05,466.08 211.41,469.38 208.77,466.08" fill="#fff" stroke="#777" stroke-width="0.90"/>
<polygon points="225.19,478.53 227.83,481.83 225.19,485.13 222.55,481.83" fill="#fff" stroke="#777" stroke-width="0.90"/>
<polygon points="242.50,492.20 245.14,495.50 242.50,498.80 239.86,495.50" fill="#fff" stroke="#777" stroke-width="0.90"/>
<polygon points="44.63,519.00 47.83,513.90 41.43,513.90" fill="#000"/>
<polygon points="58.82,519.00 62.02,513.90 55.62,513.90" fill="#000"/>
<polygon points="72.67,519.00 75.87,513.90 69.47,513.90" fill="#000"/>
<polygon points="86.52,519.00 89.72,513.90 83.32,513.90" fill="#000"/>
<polygon points="100.71,519.00 103.91,513.90 97.51,513.90" fill="#000"/>
<polygon points="114.35,519.00 117.55,513.90 111.15,513.90" fill="#000"/>
<polygon points="127.71,519.00 130.91,513.90 124.51,513.90" fill="#000"/>
<polygon points="141.90,519.00 145.10,513.90 138.70,513.90" fill="#000"/>
<polygon points="155.40,519.00 158.60,513.90 152.20,513.90" fill="#000"/>
<polygon points="169.74,519.00 172.94,513.90 166.54,513.90" fill="#000"/>
<polygon points="184.00,519.00 187.20,513.90 180.80,513.90" fill="#000"/>
<polygon points="197.43,519.00 200.63,513.90 194.23,513.90" fill="#000"/>
<polygon points="211.41,519.00 214.61,513.90 208.21,513.90" fill="#000"/>
<polygon points="225.19,519.00 228.39,513.90 221.99,513.90" fill="#000"/>
<polygon points="242.50,519.00 245.70,513.90 239.30,513.90" fill="#000"/>
<text x="266.90" y="297.60" font-family='"Liberation Sans", sans-serif' font-size="20.00" font-weight="bold" text-anchor="start">D</text>
<rect x="304.30" y="305.80" width="208.80" height="209.70" fill="none" stroke="#111" stroke-width="1.4"/>
<text x="298.90" y="518.20" font-family='"Liberation Serif", serif' font-size="11.00" font-weight="bold" text-anchor="end" stroke="#000" stroke-width="0.20">0</text>
<line x1="304.30" y1="473.56" x2="307.30" y2="473.56" stroke="#111" stroke-width="1"/>
<text x="298.90" y="476.26" font-family='"Liberation Serif", serif' font-size="11.00" font-weight="bold" text-anchor="end" stroke="#000" stroke-width="0.20">0.2</text>
<line x1="304.30" y1="431.62" x2="307.30" y2="431.62" stroke="#111" stroke-width="1"/>
<text x="298.90" y="434.32" font-family='"Liberation Serif", serif' font-size="11.00" font-weight="bold" text-anchor="end" stroke="#000" stroke-width="0.20">0.4</text>
<line x1="304.30" y1="389.68" x2="307.30" y2="389.68" stroke="#111" stroke-width="1"/>
<text x="298.90" y="392.38" font-family='"Liberation Serif", serif' font-size="11.00" font-weight="bold" text-anchor="end" stroke="#000" stroke-width="0.20">0.6</text>
<line x1="304.30" y1="347.74" x2="307.30" y2="347.74" stroke="#111" stroke-width="1"/>
<text x="298.90" y="350.44" font-family='"Liberation Serif", serif' font-size="11.00" font-weight="bold" text-anchor="end" stroke="#000" stroke-width="0.20">0.8</text>
<text x="298.90" y="308.50" font-family='"Liberation Serif", serif' font-size="11.00" font-weight="bold" text-anchor="end" stroke="#000" stroke-width="0.20">1</text>
<text x="304.30" y="529.50" font-family='"Liberation Serif", serif' font-size="11.00" font-weight="bold" text-anchor="middle" stroke="#000" stroke-width="0.20">0</text>
<line x1="346.06" y1="515.50" x2="346.06" y2="512.00" stroke="#111" stroke-width="1"/>
<text x="346.06" y="529.50" font-family='"Liberation Serif", serif' font-size="11.00" font-weight="bold" text-anchor="middle" stroke="#000" stroke-width="0.20">2</text>
<line x1="387.82" y1="515.50" x2="387.82" y2="512.00" stroke="#111" stroke-width="1"/>
<text x="387.82" y="529.50" font-family='"Liberation Serif", serif' font-size="11.00" font-weight="bold" text-anchor="middle" stroke="#000" stroke-width="0.20">4</text>
<line x1="429.58" y1="515.50" x2="429.58" y2="512.00" stroke="#111" stroke-width="1"/>
<text x="429.58" y="529.50" font-family='"Liberation Serif", serif' font-size="11.00" font-weight="bold" text-anchor="middle" stroke="#000" stroke-width="0.20">6</text>
<line x1="471.34" y1="515.50" x2="471.34" y2="512.00" stroke="#111" stroke-width="1"/>
<text x="471.34" y="529.50" font-family='"Liberation Serif", serif' font-size="11.00" font-weight="bold" text-anchor="middle" stroke="#000" stroke-width="0.20">8</text>
<text x="513.10" y="529.50" font-family='"Liberation Serif", serif' font-size="11.00" font-weight="bold" text-anchor="middle" stroke="#000" stroke-width="0.20">10</text>
<text x="410.30" y="542.30" font-family='"Liberation Serif", serif' font-size="11.80" font-weight="bold" text-anchor="middle" stroke="#000" stroke-width="0.20">DHG (µM)</text>
<text x="279.70" y="407.50" font-family='"Liberation Serif", serif' font-size="11.80" font-weight="bold" text-anchor="middle" transform="rotate(-90 279.70 407.50)" stroke="#000" stroke-width="0.20">Relative Velocity Index</text>
<path d="M304.30,305.80 C304.51,306.67 305.10,307.02 305.55,311.04 C306.01,315.06 306.44,318.91 307.01,329.92 C307.59,340.92 308.41,364.87 309.00,377.10 C309.59,389.33 310.02,396.25 310.56,403.31 C311.10,410.37 311.54,413.69 312.23,419.46 C312.93,425.22 314.04,432.91 314.74,437.91 C315.44,442.91 315.54,444.13 316.41,449.44 C317.28,454.76 318.92,464.79 319.96,469.79 C321.00,474.78 321.84,476.81 322.67,479.43 C323.51,482.05 323.86,483.42 324.97,485.51 C326.08,487.61 328.14,490.30 329.36,492.01 C330.57,493.73 331.44,494.77 332.28,495.79 C333.11,496.80 333.46,497.29 334.37,498.09 C335.27,498.90 335.90,499.60 337.71,500.61 C339.52,501.62 342.09,503.16 345.22,504.18 C348.36,505.19 352.88,505.89 356.50,506.69 C360.12,507.50 361.72,508.13 366.94,509.00 C372.16,509.87 380.86,511.20 387.82,511.94 C394.78,512.67 401.74,513.05 408.70,513.40 C415.66,513.75 419.14,513.79 429.58,514.03 C440.02,514.28 457.42,514.68 471.34,514.87 C485.26,515.06 506.14,515.13 513.10,515.19" fill="none" stroke="#111" stroke-width="1.2"/>
<path d="M304.30,305.80 C304.37,306.13 304.64,307.41 304.72,307.78 C304.80,308.16 304.75,307.96 304.77,308.07 C304.79,308.17 304.80,308.27 304.82,308.39 C304.84,308.50 304.86,308.63 304.89,308.76 C304.91,308.89 304.93,309.03 304.96,309.18 C304.98,309.33 305.01,309.49 305.04,309.66 C305.06,309.83 305.09,310.01 305.12,310.20 C305.16,310.40 305.19,310.60 305.22,310.82 C305.26,311.04 305.29,311.28 305.33,311.53 C305.37,311.78 305.41,312.04 305.46,312.33 C305.50,312.61 305.55,312.91 305.60,313.24 C305.65,313.56 305.70,313.90 305.75,314.27 C305.81,314.63 305.87,315.02 305.93,315.43 C305.99,315.85 306.05,316.28 306.12,316.75 C306.19,317.22 306.26,317.71 306.34,318.24 C306.42,318.77 306.50,319.32 306.59,319.91 C306.67,320.51 306.76,321.13 306.86,321.80 C306.96,322.46 307.06,323.16 307.17,323.91 C307.28,324.65 307.39,325.43 307.51,326.27 C307.63,327.10 307.76,327.97 307.90,328.90 C308.03,329.82 308.18,330.79 308.33,331.82 C308.48,332.84 308.64,333.92 308.81,335.05 C308.98,336.18 309.16,337.37 309.35,338.61 C309.54,339.86 309.75,341.16 309.96,342.52 C310.17,343.88 310.40,345.30 310.64,346.78 C310.88,348.27 311.13,349.81 311.40,351.41 C311.67,353.02 311.95,354.68 312.25,356.41 C312.55,358.13 312.87,359.92 313.21,361.77 C313.54,363.61 313.90,365.51 314.27,367.47 C314.65,369.43 315.05,371.44 315.47,373.50 C315.89,375.56 316.34,377.67 316.81,379.82 C317.28,381.97 317.78,384.17 318.31,386.40 C318.84,388.63 319.40,390.90 319.99,393.19 C320.59,395.48 321.21,397.80 321.88,400.13 C322.54,402.46 323.24,404.82 323.99,407.17 C324.73,409.52 325.51,411.88 326.35,414.23 C327.18,416.59 328.06,418.94 329.00,421.27 C329.93,423.60 330.91,425.92 331.96,428.21 C333.01,430.50 334.10,432.77 335.28,434.99 C336.45,437.22 337.68,439.42 338.99,441.57 C340.31,443.72 341.69,445.83 343.16,447.89 C344.63,449.95 346.17,451.96 347.82,453.92 C349.47,455.87 351.20,457.77 353.04,459.61 C354.89,461.46 356.83,463.24 358.89,464.97 C360.96,466.69 363.13,468.35 365.44,469.96 C367.76,471.56 370.19,473.10 372.78,474.58 C375.37,476.06 378.10,477.48 381.00,478.84 C383.90,480.20 386.95,481.50 390.20,482.74 C393.45,483.99 396.87,485.17 400.51,486.30 C404.15,487.43 407.98,488.50 412.06,489.53 C416.14,490.55 420.42,491.52 424.99,492.44 C429.56,493.37 434.35,494.24 439.47,495.07 C444.59,495.90 449.96,496.68 455.69,497.43 C461.42,498.17 467.44,498.87 473.86,499.53 C480.28,500.20 487.66,500.86 494.20,501.41 C500.74,501.96 509.95,502.59 513.10,502.82" fill="none" stroke="#111" stroke-width="1.2"/>
<path d="M304.30,305.80 C304.37,305.93 304.64,306.44 304.72,306.59 C304.80,306.73 304.75,306.65 304.77,306.69 C304.79,306.73 304.80,306.77 304.82,306.81 C304.84,306.85 304.86,306.90 304.89,306.94 C304.91,306.99 304.93,307.04 304.96,307.10 C304.98,307.15 305.01,307.21 305.04,307.27 C305.06,307.33 305.09,307.39 305.12,307.46 C305.16,307.53 305.19,307.61 305.22,307.68 C305.26,307.76 305.29,307.85 305.33,307.93 C305.37,308.02 305.41,308.12 305.46,308.22 C305.50,308.32 305.55,308.42 305.60,308.54 C305.65,308.65 305.70,308.77 305.75,308.90 C305.81,309.03 305.87,309.16 305.93,309.31 C305.99,309.45 306.05,309.60 306.12,309.77 C306.19,309.93 306.26,310.10 306.34,310.29 C306.42,310.47 306.50,310.67 306.59,310.87 C306.67,311.08 306.76,311.30 306.86,311.54 C306.96,311.77 307.06,312.02 307.17,312.28 C307.28,312.55 307.39,312.82 307.51,313.12 C307.63,313.42 307.76,313.73 307.90,314.06 C308.03,314.40 308.18,314.75 308.33,315.12 C308.48,315.50 308.64,315.89 308.81,316.31 C308.98,316.73 309.16,317.17 309.35,317.64 C309.54,318.11 309.75,318.60 309.96,319.12 C310.17,319.65 310.40,320.20 310.64,320.78 C310.88,321.37 311.13,321.98 311.40,322.63 C311.67,323.28 311.95,323.96 312.25,324.68 C312.55,325.40 312.87,326.16 313.21,326.96 C313.54,327.76 313.90,328.59 314.27,329.47 C314.65,330.36 315.05,331.28 315.47,332.25 C315.89,333.22 316.34,334.23 316.81,335.29 C317.28,336.36 317.78,337.47 318.31,338.63 C318.84,339.79 319.40,341.00 319.99,342.26 C320.59,343.53 321.21,344.84 321.88,346.21 C322.54,347.58 323.24,349.00 323.99,350.47 C324.73,351.95 325.51,353.47 326.35,355.05 C327.18,356.63 328.06,358.27 329.00,359.95 C329.93,361.64 330.91,363.37 331.96,365.16 C333.01,366.94 334.10,368.77 335.28,370.65 C336.45,372.53 337.68,374.46 338.99,376.42 C340.31,378.38 341.69,380.39 343.16,382.42 C344.63,384.46 346.17,386.54 347.82,388.64 C349.47,390.74 351.20,392.87 353.04,395.02 C354.89,397.17 356.83,399.34 358.89,401.52 C360.96,403.70 363.13,405.90 365.44,408.09 C367.76,410.29 370.19,412.49 372.78,414.68 C375.37,416.88 378.10,419.07 381.00,421.24 C383.90,423.42 386.95,425.58 390.20,427.72 C393.45,429.86 396.87,431.98 400.51,434.07 C404.15,436.15 407.98,438.22 412.06,440.24 C416.14,442.26 420.42,444.25 424.99,446.20 C429.56,448.14 434.35,450.05 439.47,451.90 C444.59,453.76 449.96,455.57 455.69,457.34 C461.42,459.10 467.44,460.81 473.86,462.47 C480.28,464.13 487.66,465.86 494.20,467.30 C500.74,468.74 509.95,470.46 513.10,471.10" fill="none" stroke="#111" stroke-width="1.2"/>
<rect x="301.72" y="302.80" width="6.00" height="6.00" fill="#000"/>
<rect x="303.39" y="311.61" width="6.00" height="6.00" fill="#000"/>
<rect x="306.52" y="316.22" width="6.00" height="6.00" fill="#000"/>
<rect x="311.95" y="323.14" width="6.00" height="6.00" fill="#000"/>
<rect x="322.18" y="351.66" width="6.00" height="6.00" fill="#000"/>
<rect x="353.29" y="387.52" width="6.00" height="6.00" fill="#000"/>
<rect x="405.28" y="447.70" width="6.00" height="6.00" fill="#000"/>
<rect x="510.10" y="460.07" width="6.00" height="6.00" fill="#000"/>
<circle cx="309.31" cy="333.90" r="2.50" fill="#fff" stroke="#555" stroke-width="0.90"/>
<circle cx="314.53" cy="362.84" r="2.50" fill="#fff" stroke="#555" stroke-width="0.90"/>
<circle cx="324.97" cy="420.72" r="2.50" fill="#fff" stroke="#555" stroke-width="0.90"/>
<circle cx="356.29" cy="449.23" r="2.50" fill="#fff" stroke="#555" stroke-width="0.90"/>
<circle cx="408.70" cy="491.59" r="2.50" fill="#fff" stroke="#555" stroke-width="0.90"/>
<circle cx="513.10" cy="510.05" r="2.50" fill="#fff" stroke="#555" stroke-width="0.90"/>
<circle cx="306.39" cy="323.00" r="3.08" fill="#000"/>
<circle cx="309.31" cy="381.08" r="3.08" fill="#000"/>
<circle cx="314.74" cy="434.77" r="3.08" fill="#000"/>
<circle cx="324.97" cy="488.66" r="3.08" fill="#000"/>
<circle cx="356.29" cy="505.43" r="3.08" fill="#000"/>
<circle cx="408.70" cy="514.45" r="3.08" fill="#000"/>
<circle cx="513.10" cy="515.50" r="3.08" fill="#000"/>
<rect x="401.5" y="350.6" width="92.3" height="44.1" fill="#fff" stroke="#333" stroke-width="1"/>
<line x1="405.6" y1="360.50" x2="426" y2="360.50" stroke="#111" stroke-width="1.2"/>
<circle cx="416.20" cy="360.50" r="2.75" fill="#000"/>
<text x="428.50" y="364.50" font-family='"Liberation Serif", serif' font-size="11.50" font-weight="bold" text-anchor="start" stroke="#000" stroke-width="0.20">FIXa WT</text>
<line x1="405.6" y1="372.60" x2="426" y2="372.60" stroke="#111" stroke-width="1.2"/>
<circle cx="416.20" cy="372.60" r="2.50" fill="#fff" stroke="#555" stroke-width="0.90"/>
<text x="428.50" y="376.60" font-family='"Liberation Serif", serif' font-size="11.50" font-weight="bold" text-anchor="start" stroke="#000" stroke-width="0.20">FIXa R170A</text>
<line x1="405.6" y1="385.00" x2="426" y2="385.00" stroke="#111" stroke-width="1.2"/>
<rect x="413.20" y="382.00" width="6.00" height="6.00" fill="#000"/>
<text x="428.50" y="389.00" font-family='"Liberation Serif", serif' font-size="11.50" font-weight="bold" text-anchor="start" stroke="#000" stroke-width="0.20">FIXa R233A</text></svg>
</body></html>
